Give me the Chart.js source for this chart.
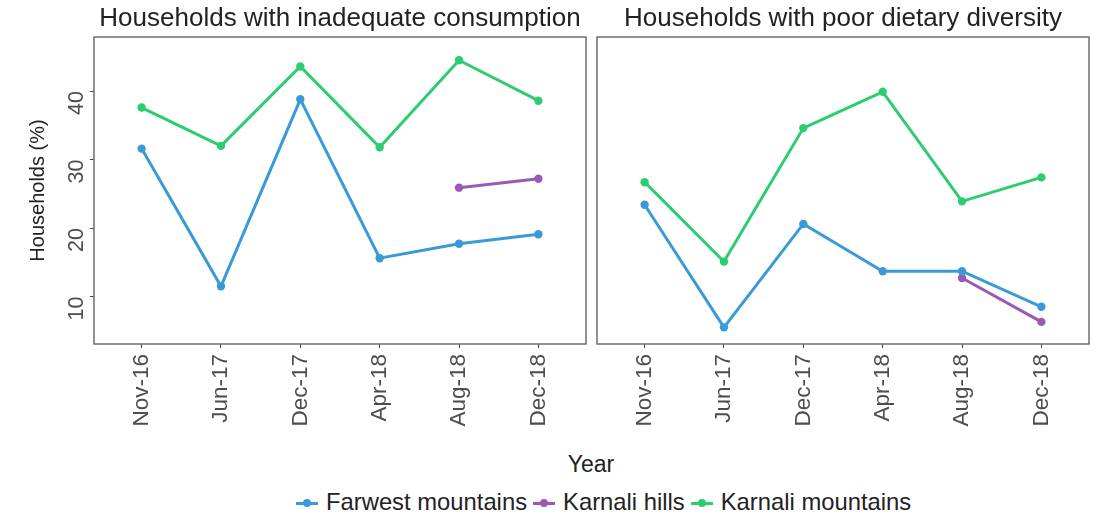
<!DOCTYPE html>
<html>
<head>
<meta charset="utf-8">
<script src="https://cdn.jsdelivr.net/npm/chart.js@4.4.0/dist/chart.umd.min.js"></script>
<style>
  body { margin: 0; background: #fff; font-family: "Liberation Sans", Arial, sans-serif; }
  #wrap { position: relative; width: 1104px; height: 520px; overflow: hidden; }
  #box1 { position: absolute; left: 0; top: 0; width: 592px; height: 440px; }
  #box2 { position: absolute; left: 592px; top: 0; width: 512px; height: 440px; }
  #xtitle { position: absolute; left: 0; width: 1182px; top: 451px; text-align: center; font-size: 23px; color: #222; }
  #legend { position: absolute; left: 296px; top: 488px; font-size: 23.8px; color: #222; white-space: nowrap; }
  .item { display: inline-block; margin-right: 6px; }
  .key { display: inline-block; position: relative; width: 22px; height: 3px; vertical-align: middle; margin-right: 8px; }
  .key i { position: absolute; left: 7px; top: -3px; width: 8px; height: 8px; border-radius: 50%; }
</style>
</head>
<body>
<div id="wrap">
  <div id="box1"><canvas id="consumption"></canvas></div>
  <div id="box2"><canvas id="diversity"></canvas></div>
  <div id="xtitle">Year</div>
  <div id="legend"></div>
</div>
<script>
var months = ["Nov-16", "Jun-17", "Dec-17", "Apr-18", "Aug-18", "Dec-18"];
var yTicks = [10, 20, 30, 40];

// inadequate consumption (%)
var consFarwest = [31.6, 11.5, 38.8, 15.6, 17.7, 19.1];
var consKarnaliHills = [null, null, null, null, 25.9, 27.2];
var consKarnaliMount = [37.6, 32.0, 43.6, 31.8, 44.5, 38.6];

// poor dietary diversity (%)
var divFarwest = [23.4, 5.5, 20.6, 13.7, 13.7, 8.5];
var divKarnaliHills = [null, null, null, null, 12.7, 6.3];
var divKarnaliMount = [26.7, 15.1, 34.6, 39.9, 23.9, 27.4];

var seriesNames = ["Farwest mountains", "Karnali hills", "Karnali mountains"];
var seriesColors = ["#3a9ad9", "#9b59b6", "#2ecc71"];

var FONT = "'Liberation Sans', Arial, sans-serif";

function toPoints(values) {
    var pts = [];
    for (var i = 0; i < values.length; i++) {
        if (values[i] !== null) pts.push({x: i, y: values[i]});
    }
    return pts;
}

function makeDatasets(a, b, c) {
    return [a, b, c].map(function(vals, k) {
        return {
            label: seriesNames[k],
            data: toPoints(vals),
            borderColor: seriesColors[k],
            backgroundColor: seriesColors[k],
            borderWidth: 3,
            pointRadius: 4.2,
            pointBorderWidth: 0,
            pointHoverRadius: 4.2,
            tension: 0
        };
    });
}

var panelBox = {
    id: 'panelBox',
    afterDraw: function(chart) {
        var a = chart.chartArea, ctx = chart.ctx;
        ctx.save();
        ctx.strokeStyle = '#6e6e6e';
        ctx.lineWidth = 1.5;
        ctx.strokeRect(a.left, a.top, a.right - a.left, a.bottom - a.top);
        ctx.restore();
    }
};

function makeOptions(titleText, showY, padLeft, padRight) {
    return {
        responsive: true,
        maintainAspectRatio: false,
        animation: false,
        layout: {padding: {left: padLeft, right: padRight, top: 0, bottom: 0}},
        plugins: {
            legend: {display: false},
            tooltip: {enabled: false},
            title: {
                display: true,
                text: titleText,
                fullSize: false,
                color: '#222',
                font: {family: FONT, size: 26, weight: 'normal'},
                padding: {top: 3, bottom: 2.8}
            }
        },
        scales: {
            x: {
                type: 'linear',
                min: -0.6,
                max: 5.6,
                afterBuildTicks: function(scale) {
                    scale.ticks = months.map(function(m, i) { return {value: i}; });
                },
                afterFit: function(scale) { scale.height = 96; },
                grid: {display: true, drawOnChartArea: false, drawTicks: true, tickLength: 4, color: '#444'},
                border: {display: false},
                ticks: {
                    callback: function(v) { return months[v]; },
                    minRotation: 90,
                    maxRotation: 90,
                    padding: 6,
                    autoSkip: false,
                    color: '#4d4d4d',
                    font: {family: FONT, size: 22.5}
                }
            },
            y: {
                display: showY,
                min: 3.07,
                max: 47.9,
                afterBuildTicks: function(scale) {
                    scale.ticks = yTicks.map(function(v) { return {value: v}; });
                },
                afterFit: function(scale) { scale.width = showY ? 94 : 0; },
                grid: {display: true, drawOnChartArea: false, drawTicks: true, tickLength: 4, color: '#444'},
                border: {display: false},
                ticks: {
                    minRotation: 90,
                    maxRotation: 90,
                    crossAlign: 'near',
                    padding: 13,
                    color: '#4d4d4d',
                    font: {family: FONT, size: 21.5}
                },
                title: {
                    display: true,
                    text: 'Households (%)',
                    color: '#222',
                    font: {family: FONT, size: 20},
                    padding: {top: 26, bottom: 0}
                }
            }
        }
    };
}

window.onload = function() {
    var legend = document.getElementById('legend');
    seriesNames.forEach(function(name, k) {
        var item = document.createElement('span');
        item.className = 'item';
        item.innerHTML = '<span class="key" style="background:' + seriesColors[k] + '"><i style="background:' +
            seriesColors[k] + '"></i></span>' + name;
        legend.appendChild(item);
    });

    var ctx1 = document.getElementById('consumption').getContext('2d');
    window.chart1 = new Chart(ctx1, {
        type: 'line',
        data: {datasets: makeDatasets(consFarwest, consKarnaliHills, consKarnaliMount)},
        options: makeOptions('Households with inadequate consumption', true, 0, 6),
        plugins: [panelBox]
    });

    var ctx2 = document.getElementById('diversity').getContext('2d');
    window.chart2 = new Chart(ctx2, {
        type: 'line',
        data: {datasets: makeDatasets(divFarwest, divKarnaliHills, divKarnaliMount)},
        options: makeOptions('Households with poor dietary diversity', false, 5, 15),
        plugins: [panelBox]
    });
};
</script>
</body>
</html>
